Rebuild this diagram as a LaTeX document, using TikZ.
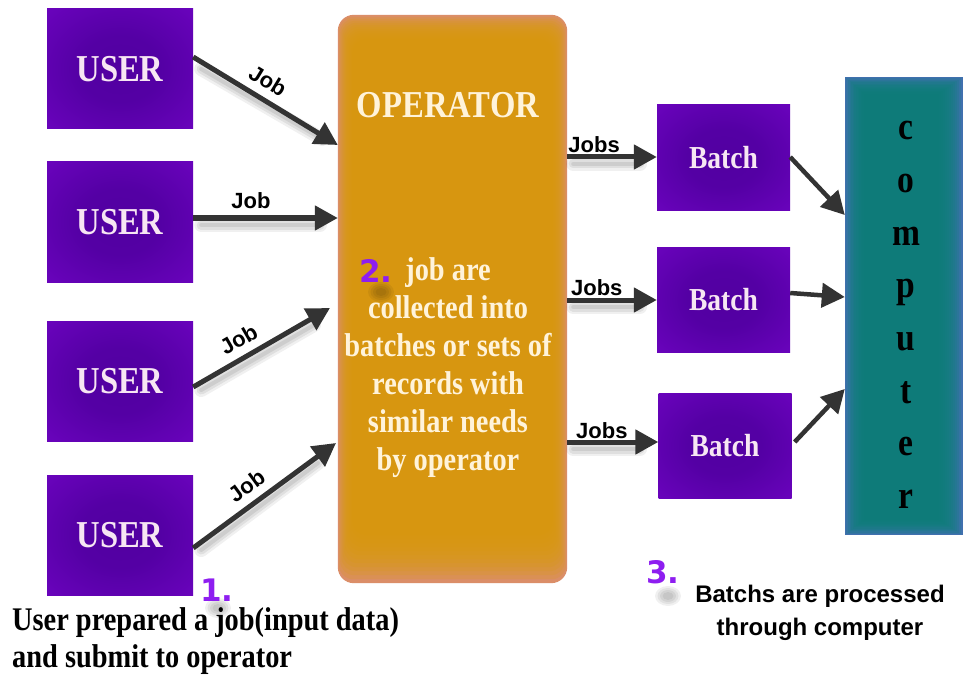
\documentclass[tikz,border=0pt]{standalone}
\usepackage{fontspec}
\setmainfont{Liberation Serif}[FakeStretch=0.86]
\setsansfont{Liberation Sans}
\newfontfamily\numfont{DejaVu Sans}
\usetikzlibrary{arrows.meta}

\definecolor{arrc}{HTML}{333333}
\definecolor{boxtext}{HTML}{F7E6F3}
\definecolor{opedge}{HTML}{DB8E68}
\definecolor{opcore}{HTML}{D79A0C}
\definecolor{optext}{HTML}{FFF3DA}
\definecolor{cpedge}{HTML}{4070AE}
\definecolor{cpcore}{HTML}{0C7F77}
\definecolor{numc}{HTML}{8E1EF0}

% purple glow: darker middle, brighter violet rim
\pgfdeclareradialshading{purpglow}{\pgfpoint{0bp}{0bp}}{%
  rgb(0bp)=(0.32,0,0.63); rgb(14bp)=(0.33,0,0.645);
  rgb(50bp)=(0.47,0.02,0.80); rgb(72bp)=(0.50,0.03,0.83)}

\begin{document}
\begin{tikzpicture}[x=1pt,y=-1pt,
  userbox/.style={shade, shading=purpglow, minimum width=146pt, minimum height=120pt,
    inner sep=0pt, text=boxtext, font=\bfseries\fontsize{38}{40}\selectfont},
  batchbox/.style={shade, shading=purpglow, minimum width=133pt, minimum height=106pt,
    inner sep=0pt, text=boxtext, font=\bfseries\fontsize{32}{34}\selectfont},
  arr/.style={draw=arrc, line width=5pt, -{Triangle[length=23pt,width=24pt]}},
  shadowA/.style={draw=black, opacity=0.06, line width=14pt, line cap=round,
    transform canvas={xshift=2pt,yshift=-7pt}},
  shadowB/.style={draw=black, opacity=0.07, line width=9pt, line cap=round,
    transform canvas={xshift=2pt,yshift=-7pt}},
  shadowC/.style={draw=black, opacity=0.08, line width=4pt, line cap=round,
    transform canvas={xshift=2pt,yshift=-7pt}},
  lbl/.style={font=\sffamily\bfseries\fontsize{22}{24}\selectfont, text=black, inner sep=1pt},
  bodyline/.style={anchor=base, text=optext, font=\bfseries\fontsize{33}{36}\selectfont},
  letter/.style={anchor=base, text=black, font=\bfseries\fontsize{39}{40}\selectfont},
  numtxt/.style={anchor=base west, text=numc, font=\numfont\bfseries\fontsize{31}{33}\selectfont, inner sep=0pt},
  notetxt/.style={font=\bfseries\fontsize{33}{36}\selectfont, text=black, inner sep=0pt},
  notesans/.style={anchor=base, font=\sffamily\bfseries\fontsize{24}{26}\selectfont, text=black, inner sep=0pt}
]
\useasboundingbox (0,0) rectangle (966,687);
\fill[white] (0,0) rectangle (966,687);

% ---------- operator panel ----------
\node[minimum width=229pt, minimum height=568pt, inner sep=0pt] (op) at (452.5,299) {};
\fill[opedge, rounded corners=16pt] (op.north west) rectangle (op.south east);
\foreach \k in {1,...,12}
  \fill[opcore, opacity=0.2, rounded corners=14pt]
    ([xshift=1.2*\k pt, yshift=-2*\k pt]op.north west) rectangle
    ([xshift=-1.2*\k pt, yshift=4*\k pt]op.south east);
\node[text=optext, font=\bfseries\fontsize{38}{40}\selectfont, anchor=base] (optitle) at (448,118) {OPERATOR};
\foreach \t [count=\i] in {job are, collected into, batches or sets of, records with, similar needs, by operator}
  \node[bodyline] (opline\i) at (448, 280+38*\i-38) {\t};

% ---------- computer column ----------
\node[minimum width=118pt, minimum height=458pt, inner sep=0pt] (cp) at (904,306) {};
\fill[cpedge] (cp.north west) rectangle (cp.south east);
\foreach \k in {1,...,12}
  \fill[cpcore, opacity=0.2]
    ([xshift=1.6*\k pt, yshift=-1.4*\k pt]cp.north west) rectangle
    ([xshift=-2*\k pt, yshift=1.3*\k pt]cp.south east);
\foreach \l [count=\i] in {c,o,m,p,u,t,e,r}
  \node[letter] (cl\i) at (906, 140+52.6*\i-52.6) {\l};

% ---------- users and batches ----------
\node[userbox] (u1) at (120,69) {USER};
\node[userbox] (u2) at (120,222) {USER};
\node[userbox] (u3) at (120,381) {USER};
\node[userbox] (u4) at (120,535) {USER};

\node[batchbox] (b1) at (723.5,158) {Batch};
\node[batchbox, minimum height=105pt] (b2) at (723.5,299.5) {Batch};
\node[batchbox, minimum height=105pt] (b3) at (725,445.5) {Batch};

% ---------- soft arrow shadows ----------
\foreach \s in {shadowA,shadowB,shadowC} {
  \draw[\s] ([xshift=6pt]u1.east |- 0,62) -- (320,132);
  \draw[\s] ([xshift=6pt]u2.east |- 0,218) -- (318,218);
  \draw[\s] ([xshift=6pt]u3.east |- 0,383) -- (312,318);
  \draw[\s] ([xshift=6pt]u4.east |- 0,543) -- (316,456);
  \draw[\s] ([xshift=4pt]op.east |- 0,157) -- (638,157);
  \draw[\s] ([xshift=4pt]op.east |- 0,300) -- (638,300);
  \draw[\s] ([xshift=4pt]op.east |- 0,442) -- (638,442);
}

% ---------- user -> operator ----------
\coordinate (in3) at (330,308);
\coordinate (in4) at (336,443);
\draw[arr] (u1.east |- 0,57) -- node[lbl, pos=0.45, sloped, above=7pt] (j1) {Job} (op.west |- 0,145);
\draw[arr] (u2.east |- 0,218) -- node[lbl, pos=0.4, above=6pt] (j2) {Job} (op.west |- 0,218);
\draw[arr] (u3.east |- 0,387) -- node[lbl, pos=0.4, sloped, above=7pt] (j3) {Job} (in3);
\draw[arr] (u4.east |- 0,548) -- node[lbl, pos=0.45, sloped, above=7pt] (j4) {Job} (in4);

% ---------- operator -> batches ----------
\draw[arr] (op.east |- 0,157) -- node[lbl, pos=0.3, above=1pt] (s1) {Jobs} (b1.west |- 0,157);
\draw[arr] (op.east |- 0,300) -- node[lbl, pos=0.33, above=1pt] (s2) {Jobs} (b2.west |- 0,300);
\draw[arr] (op.east |- 0,442) -- node[lbl, pos=0.38, above=0pt] (s3) {Jobs} (b3.west |- 0,442);

% ---------- batches -> computer ----------
\draw[arr, line width=4.5pt] (b1.east |- 0,157) -- (cp.west |- 0,215);
\draw[arr, line width=4.5pt] (b2.east |- 0,293) -- (cp.west |- 0,297);
\draw[arr, line width=4.5pt] ([xshift=3pt]b3.east |- 0,442) -- (cp.west |- 0,389);

% ---------- step numbers with soft shadows ----------
\foreach \r in {1,...,4} {
  \fill[black, opacity=0.06] (218,608) ellipse ({3+2.5*\r} and {2+2*\r});
  \fill[black, opacity=0.06] (381,292) ellipse ({3+2.5*\r} and {2+2*\r});
  \fill[black, opacity=0.06] (668,596) ellipse ({3+2.5*\r} and {2+2*\r});
}
\node[numtxt] (n1) at (200,601) {1.};
\node[numtxt] (n2) at (359,282) {2.};
\node[numtxt] (n3) at (646,583) {3.};

% ---------- notes ----------
\node[notetxt, anchor=base west] (note1a) at (12,630) {User prepared a job(input data)};
\node[notetxt, anchor=base west] (note1b) at (12,667) {and submit to operator};
\node[notesans] (note3a) at (820,602) {Batchs are processed};
\node[notesans] (note3b) at (820,635) {through computer};
\end{tikzpicture}
\end{document}
